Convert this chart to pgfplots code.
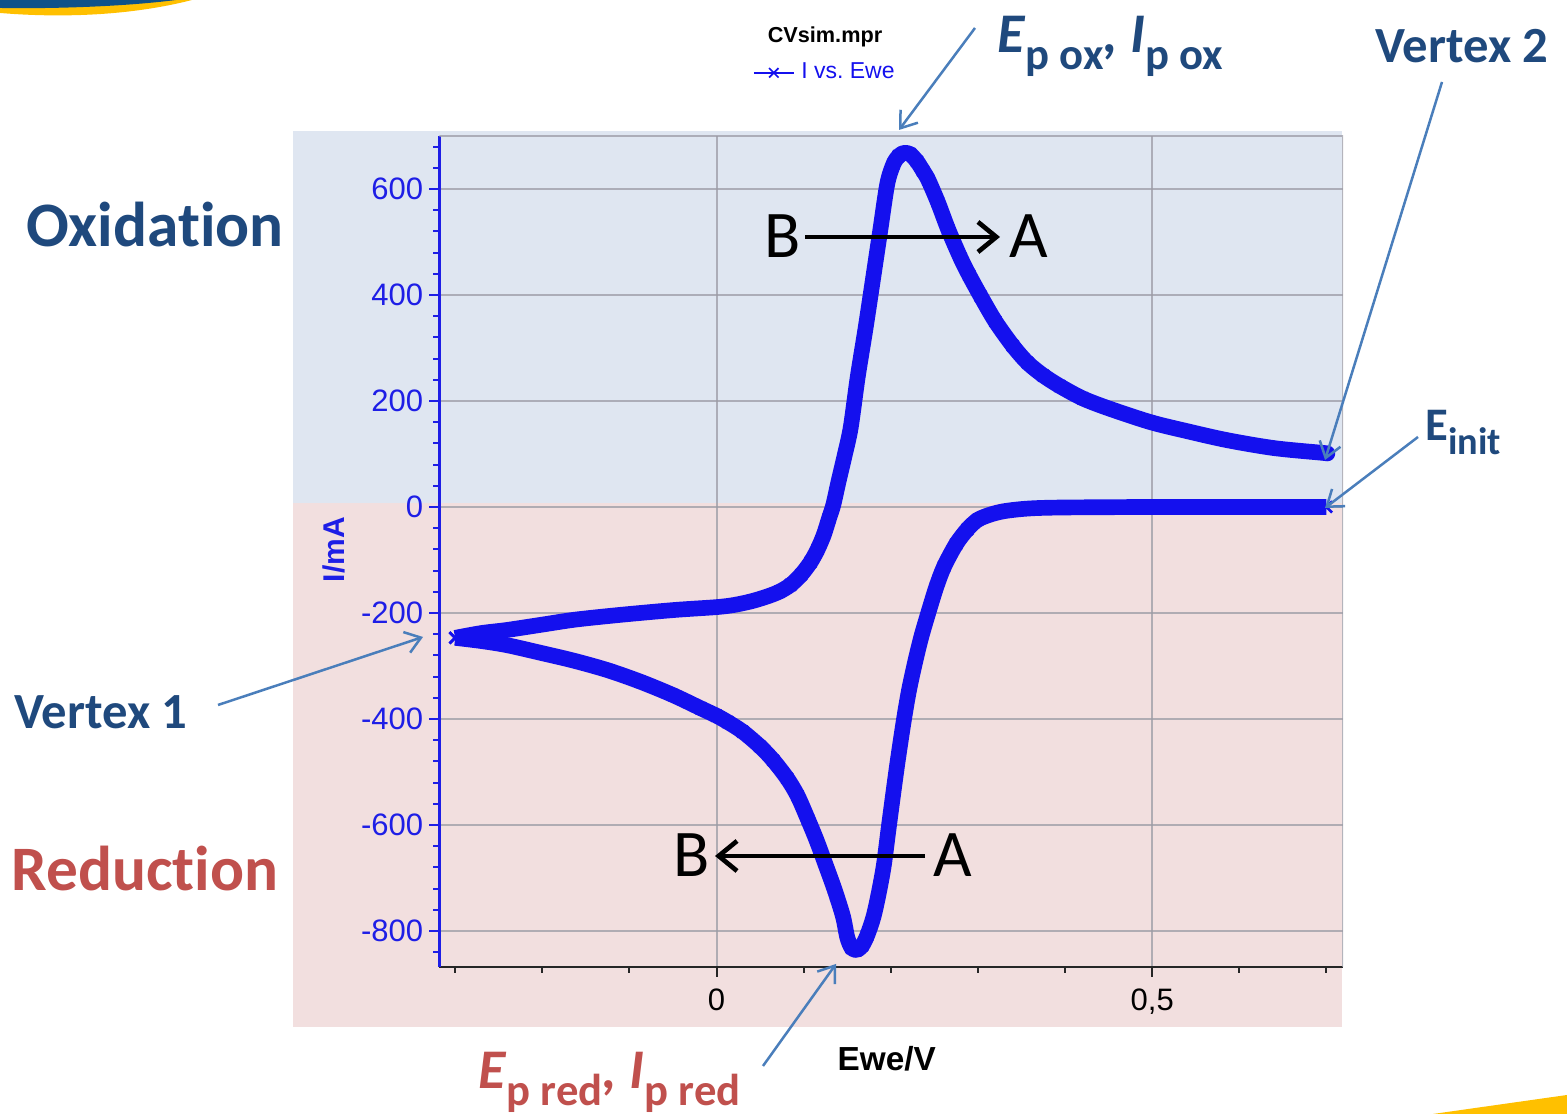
\documentclass[border=0pt]{standalone}
\usepackage{pgfplots}
\pgfplotsset{compat=1.18}
\usepackage{pgfplotstable}
\usepackage{fontspec}
\setmainfont{Liberation Sans}
\newfontfamily\slidefont[Ligatures=NoCommon]{Carlito}
\usetikzlibrary{arrows.meta}

\definecolor{cvblue}{RGB}{20,16,238}
\definecolor{axblue}{RGB}{30,30,230}
\definecolor{oxbg}{RGB}{223,230,241}
\definecolor{redbg}{RGB}{242,223,223}
\definecolor{navy}{RGB}{31,73,125}
\definecolor{brick}{RGB}{192,80,77}
\definecolor{steel}{RGB}{74,126,187}
\definecolor{gridgray}{RGB}{155,155,165}
\definecolor{swblue}{RGB}{15,82,137}
\definecolor{swyellow}{RGB}{255,192,0}

% Forward (cathodic) scan: 0.7 V -> -0.3 V
\pgfplotstableread{
E I
0.700 0
0.650 0
0.600 0
0.550 0
0.500 0
0.450 -0.5
0.400 -1
0.370 -2
0.350 -4
0.330 -8
0.315 -14
0.300 -24
0.288 -42
0.275 -70
0.261 -113
0.252 -152
0.243 -200
0.235 -245
0.228 -292
0.221 -345
0.215 -402
0.207 -490
0.198 -600
0.192 -676
0.186 -730
0.180 -774
0.173 -808
0.167 -828
0.161 -836
0.155 -832
0.150 -812
0.145 -772
0.135 -720
0.124 -670
0.115 -630
0.105 -590
0.093 -545
0.081 -512
0.065 -478
0.050 -452
0.030 -424
0.013 -406
0.000 -394
-0.018 -380
-0.050 -355
-0.087 -330
-0.125 -308
-0.164 -290
-0.200 -276
-0.240 -261
-0.270 -253
-0.300 -247
}\cathodic

% Reverse (anodic) scan: -0.3 V -> 0.7 V
\pgfplotstableread{
E I
-0.300 -247
-0.270 -238
-0.240 -232
-0.200 -222
-0.164 -213
-0.125 -206
-0.087 -200
-0.045 -194
0.000 -189
0.020 -185
0.040 -178
0.058 -169
0.072 -160
0.085 -147
0.097 -128
0.108 -104
0.116 -80
0.123 -53
0.129 -22
0.134 4
0.140 48
0.147 97
0.154 150
0.162 245
0.171 337
0.180 435
0.188 523
0.196 610
0.203 647
0.209 662
0.215 668
0.222 666
0.230 652
0.237 634
0.243 617
0.254 575
0.266 523
0.280 470
0.290 437
0.303 398
0.320 350
0.340 304
0.357 272
0.375 248
0.394 228
0.420 205
0.450 186
0.498 160
0.540 143
0.586 126
0.640 111
0.696 102
0.700 101
}\anodic

\begin{document}
\begin{tikzpicture}
% page frame and slide backgrounds, in pixel-like units (y downwards)
\begin{scope}[x=0.3pt, y=-0.3pt, yshift=334.2pt]
  \path[use as bounding box] (0,0) rectangle (1567,1114);
  \fill[oxbg] (293,131) rectangle (1342,503);
  \fill[redbg] (293,503) rectangle (1342,1027);
  % slide decoration
  \fill[swyellow] (0,0) -- (0,13) .. controls (60,18) and (130,16) .. (192,0) -- cycle;
  \fill[swblue] (0,0) -- (0,8) .. controls (60,9) and (130,6) .. (176,0) -- cycle;
  \fill[swyellow] (1433,1114) -- (1567,1095) -- (1567,1114) -- cycle;
\end{scope}

\begin{axis}[
  at={(131.85pt,44.1pt)}, anchor=south west,
  scale only axis, width=271.05pt, height=249.3pt,
  xmin=-0.318, xmax=0.719, ymin=-868, ymax=700,
  axis x line=bottom, axis y line=left,
  every outer x axis line/.append style={-},
  every outer y axis line/.append style={-},
  x axis line style={-, black!85, line width=0.7pt},
  y axis line style={-, axblue, line width=0.7pt},
  xtick={0,0.5}, xticklabels={0,{0,5}},
  minor xtick={-0.3,-0.2,-0.1,0.1,0.2,0.3,0.4,0.6,0.7},
  ytick={-800,-600,...,600},
  yticklabels={-800,-600,-400,-200,0,200,400,600},
  minor ytick={-840,-800,...,680},
  tick align=outside,
  major tick length=3pt, minor tick length=1.8pt,
  xtick style={black!85, line width=0.6pt},
  ytick style={axblue, line width=0.6pt},
  grid=major,
  major grid style={gridgray, opacity=0.75, line width=0.6pt},
  tick label style={font=\fontsize{9.3}{9.3}\selectfont},
  yticklabel style={text=axblue, xshift=1.6pt},
  xticklabel style={text=black},
  xlabel={Ewe/V}, ylabel={I/mA},
  xlabel style={font=\bfseries\fontsize{10}{10}\selectfont, at={(axis description cs:0.495,-0.11)}, anchor=center},
  ylabel style={font=\bfseries\fontsize{9}{9}\selectfont, text=axblue, at={(axis description cs:-0.117,0.502)}, anchor=center},
  legend style={at={(axis description cs:0.429,1.076)}, anchor=center, draw=none, fill=none,
    font=\fontsize{6.9}{7}\selectfont, text=cvblue, inner sep=0pt},
  legend image code/.code={\draw[mark repeat=2, mark phase=2, #1] plot coordinates {(0pt,0pt) (6pt,0pt) (12pt,0pt)};},
]
  \draw[gridgray, opacity=0.75, line width=0.6pt] (rel axis cs:0,1) -- (rel axis cs:1,1) -- (rel axis cs:1,0);
  \addplot[cvblue, line width=4.7pt, line join=round, smooth, tension=0.5, mark=x, mark size=2.4pt,
    mark options={line width=0.8pt, solid}, forget plot] table[x=E, y=I] {\cathodic};
  \addplot[cvblue, line width=4.7pt, line join=round, smooth, tension=0.5, mark=x, mark size=2.4pt,
    mark options={line width=0.8pt, solid}, forget plot] table[x=E, y=I] {\anodic};
  \addlegendimage{cvblue, line width=0.5pt, mark=x, mark size=2pt, mark options={solid}}
  \addlegendentry{I vs.\ Ewe}
\end{axis}

\begin{scope}[x=0.3pt, y=-0.3pt, yshift=334.2pt]
  \node[font=\bfseries\fontsize{6.5}{7}\selectfont] at (825,37) {CVsim.mpr};

  % region labels
  \node[anchor=base, text=navy, font=\slidefont\bfseries\fontsize{19}{19}\selectfont] at (155,247) {Oxidation};
  \node[anchor=base, text=brick, font=\slidefont\bfseries\fontsize{19}{19}\selectfont] at (145,891) {Reduction};
  \node[anchor=base, text=navy, font=\slidefont\bfseries\fontsize{15.2}{15.2}\selectfont] at (101,729) {Vertex 1};
  \node[anchor=base, text=navy, font=\slidefont\bfseries\fontsize{15.2}{15.2}\selectfont] at (1462,63) {Vertex 2};
  \node[anchor=base west, inner sep=0pt, text=navy, font=\slidefont\bfseries\fontsize{14}{14}\selectfont] at (1425,441)
    {E\raisebox{-4pt}{\fontsize{11.5}{11.5}\selectfont init}};
  \node[anchor=base west, inner sep=0pt, text=navy, font=\slidefont\bfseries\fontsize{16.8}{16.8}\selectfont] at (997,53)
    {\textit{E}\raisebox{-5pt}{\fontsize{13.4}{13.4}\selectfont p ox}\textit{,} \textit{I}\raisebox{-5pt}{\fontsize{13.4}{13.4}\selectfont p ox}};
  \node[anchor=base west, inner sep=0pt, text=brick, font=\slidefont\bfseries\fontsize{16.8}{16.8}\selectfont] at (478,1089)
    {\textit{E}\raisebox{-5pt}{\fontsize{13.4}{13.4}\selectfont p red}\textit{,} \textit{I}\raisebox{-5pt}{\fontsize{13.4}{13.4}\selectfont p red}};

  % scan direction
  \node[anchor=base, font=\slidefont\fontsize{20}{20}\selectfont] at (783,258) {B};
  \node[anchor=base, font=\slidefont\fontsize{20}{20}\selectfont] at (1029,258) {A};
  \draw[line width=1.4pt, -{Straight Barb[length=5.5pt, width=9pt]}] (805,237) -- (1000,237);
  \node[anchor=base, font=\slidefont\fontsize{20}{20}\selectfont] at (692,877) {B};
  \node[anchor=base, font=\slidefont\fontsize{20}{20}\selectfont] at (953,877) {A};
  \draw[line width=1.4pt, -{Straight Barb[length=5.5pt, width=9pt]}] (925,856) -- (715,856);

  % pointers
  \begin{scope}[steel, line width=0.75pt, -{Straight Barb[length=4.5pt, width=6.5pt]}]
    \draw (975,28) -- (899,130);
    \draw (1442,82) -- (1325,460);
    \draw (1418,437) -- (1325,508);
    \draw (218,705) -- (423,637);
    \draw (763,1066) -- (836,964);
  \end{scope}
\end{scope}
\end{tikzpicture}
\end{document}
